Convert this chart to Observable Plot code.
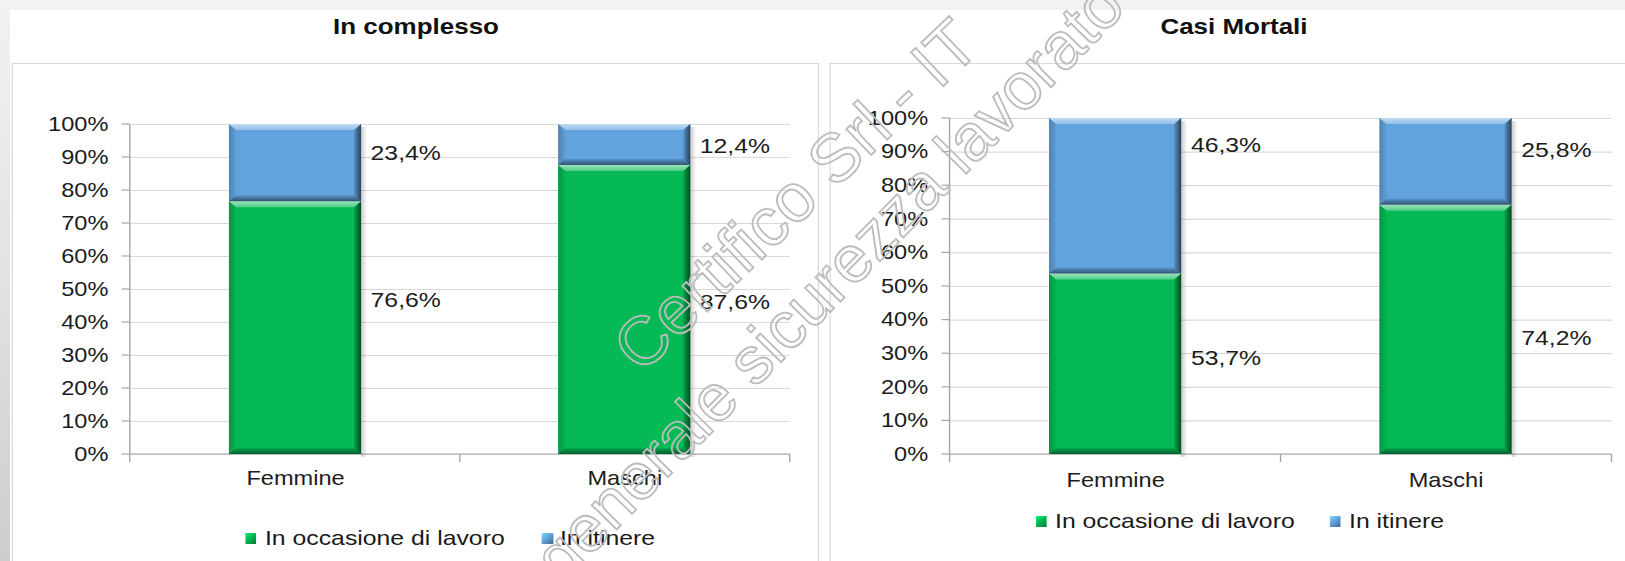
<!DOCTYPE html>
<html>
<head>
<meta charset="utf-8">
<script src="https://cdn.jsdelivr.net/npm/d3@7"></script>
<script src="https://cdn.jsdelivr.net/npm/@observablehq/plot@0.6"></script>
<style>
  html, body { margin: 0; padding: 0; width: 1625px; height: 561px; overflow: hidden; }
  body { background: linear-gradient(180deg, #f2f2f2 0%, #e2e2e2 50%, #cdcdcd 100%); font-family: Arial, "Liberation Sans", sans-serif; position: relative; }
  #sheet { position: absolute; left: 10px; top: 10px; right: 0; bottom: 0; background: #ffffff; }
  #stage { position: absolute; left: 0; top: 0; height: 561px; transform-origin: 0 0; }
  .panel { position: absolute; border: 1px solid #d9d9d9; border-bottom: none; box-sizing: border-box; }
  .title { position: absolute; text-align: center; font-weight: bold; font-size: 22px; line-height: 26px; color: #111; white-space: nowrap; }
  .leg { position: absolute; font-size: 21px; line-height: 22px; color: #1a1a1a; white-space: nowrap; }
  .sw { position: absolute; height: 11px; box-sizing: border-box; }
  #wm { position: absolute; left: 0; top: 0; pointer-events: none; }
</style>
</head>
<body>
<div id="sheet"></div>
<div id="stage"></div>
<script>
// ---------------- data ----------------
const titles = ["In complesso", "Casi Mortali"];
const categories = ["Femmine", "Maschi"];
const series = ["In occasione di lavoro", "In itinere"];
const yTicks = [0, 10, 20, 30, 40, 50, 60, 70, 80, 90, 100];

const complessoLavoro = [76.6, 87.6];
const complessoItinere = [23.4, 12.4];
const mortaliLavoro = [53.7, 74.2];
const mortaliItinere = [46.3, 25.8];

// where the data labels sit (in %)
const complessoLabelLavoro = [46.7, 46.2];
const complessoLabelItinere = [91.2, 93.4];
const mortaliLabelLavoro = [28.6, 34.5];
const mortaliLabelItinere = [92.0, 90.5];

const watermark = ["Certifico Srl - IT", "generale sicurezza lavorato"];

// ---------------- style ----------------
const GREEN = "#05b955";
const BLUE = "#62a3de";
const GRID = "#d9d9d9";
const AXIS = "#a6a6a6";
const INK = "#1c1c1c";
const FONT = "Arial, 'Liberation Sans', sans-serif";
const S = 1.18;               // horizontal stretch of the original picture
const u = v => v / S;

const stage = document.getElementById("stage");
stage.style.width = u(1625) + "px";
stage.style.transform = `scaleX(${S})`;

function fmt(v) { return v.toFixed(1).replace(".", ",") + "%"; }

function defs(id) {
  return () => {
    const d = d3.create("svg:defs");
    const lin = (name, x2, y2, stops) => {
      const g = d.append("linearGradient").attr("id", `${id}-${name}`)
        .attr("x1", 0).attr("y1", 0).attr("x2", x2).attr("y2", y2);
      stops.forEach(([o, c, a]) => g.append("stop").attr("offset", o).attr("stop-color", c).attr("stop-opacity", a));
    };
    lin("top", 0, 1, [[0, "#fff", 0.6], [1, "#fff", 0.3]]);
    lin("right", 1, 0, [[0, "#000", 0.12], [1, "#000", 0.6]]);
    lin("bottom", 0, 1, [[0, "#000", 0.1], [1, "#000", 0.5]]);
    lin("left", 1, 0, [[0, "#000", 0.2], [1, "#000", 0.04]]);
    lin("shadow", 1, 0, [[0, "#000", 0.2], [1, "#000", 0]]);
    return d.node();
  };
}

function axes(nCats) {
  return (index, scales, values, dim) => {
    const g = d3.create("svg:g").attr("stroke", AXIS).attr("stroke-width", 1.2).attr("fill", "none");
    const x0 = dim.marginLeft, x1 = dim.width - dim.marginRight;
    const y0 = scales.y(0), yTop = scales.y(100);
    g.append("line").attr("x1", x0).attr("x2", x0).attr("y1", yTop).attr("y2", y0 + 8);
    g.append("line").attr("x1", x0).attr("x2", x1).attr("y1", y0).attr("y2", y0);
    for (const t of yTicks) {
      const y = scales.y(t);
      g.append("line").attr("x1", x0 - u(8)).attr("x2", x0).attr("y1", y).attr("y2", y);
    }
    const step = (x1 - x0) / nCats;
    for (let k = 1; k <= nCats; k++) {
      const x = x0 + k * step;
      g.append("line").attr("x1", x).attr("x2", x).attr("y1", y0).attr("y2", y0 + 8);
    }
    return g.node();
  };
}

function bevel(rows, id) {
  return (index, scales) => {
    const g = d3.create("svg:g");
    const bw = scales.x.bandwidth();
    const bx = u(7), by = 6;
    const poly = (pts, fill) => g.append("polygon")
      .attr("points", pts.map(p => p.join(",")).join(" ")).attr("fill", fill);
    for (const r of rows) {
      const xa = scales.x(r.cat), xb = xa + bw;
      const yt = scales.y(r.y1), yb = scales.y(r.y0);
      g.append("rect").attr("x", xb).attr("y", yt + 3).attr("width", u(6)).attr("height", Math.max(0, yb - yt))
        .attr("fill", `url(#${id}-shadow)`);
      poly([[xa, yt], [xb, yt], [xb - bx, yt + by], [xa + bx, yt + by]], `url(#${id}-top)`);
      poly([[xa, yt], [xa, yb], [xa + bx, yb - by], [xa + bx, yt + by]], `url(#${id}-left)`);
      poly([[xa, yb], [xb, yb], [xb - bx, yb - by], [xa + bx, yb - by]], `url(#${id}-bottom)`);
      poly([[xb, yt], [xb, yb], [xb - bx, yb - by], [xb - bx, yt + by]], `url(#${id}-right)`);
    }
    return g.node();
  };
}

function chart(cfg) {
  const { lavoro, itinere, labLav, labIti, W, H, mT, mR, mB, mL, catDy, id } = cfg;
  const rows = [];
  categories.forEach((c, i) => {
    rows.push({ cat: c, serie: series[0], value: lavoro[i], y0: 0, y1: lavoro[i], labelAt: labLav[i] });
    rows.push({ cat: c, serie: series[1], value: itinere[i], y0: lavoro[i], y1: lavoro[i] + itinere[i], labelAt: labIti[i] });
  });
  const step = (W - mL - mR) / categories.length;
  const bw = step * 0.4;
  return Plot.plot({
    width: W, height: H,
    marginTop: mT, marginRight: mR, marginBottom: mB, marginLeft: mL,
    x: { domain: categories, paddingInner: 0.6, paddingOuter: 0.3, axis: null },
    y: { domain: [0, 100], axis: null },
    color: { domain: series, range: [GREEN, BLUE] },
    style: { fontFamily: FONT, background: "transparent", overflow: "visible", color: INK },
    marks: [
      defs(id),
      Plot.ruleY(yTicks, { y: d => d, stroke: GRID, strokeWidth: 1.2 }),
      axes(categories.length),
      Plot.barY(rows, { x: "cat", y1: "y0", y2: "y1", fill: "serie" }),
      bevel(rows, id),
      Plot.text(yTicks, { y: d => d, text: d => d + "%", frameAnchor: "left", textAnchor: "end", dx: -u(22), fontSize: 20, fill: INK }),
      Plot.text(categories, { x: d => d, text: d => d, frameAnchor: "bottom", dy: catDy, fontSize: 20, fill: INK }),
      Plot.text(rows, { x: "cat", y: "labelAt", text: d => fmt(d.value), textAnchor: "start", dx: bw / 2 + u(9), fontSize: 21, fill: INK })
    ]
  });
}

function place(el, left, top, width) {
  el.style.position = "absolute";
  el.style.left = u(left) + "px";
  el.style.top = top + "px";
  if (width != null) el.style.width = u(width) + "px";
  stage.appendChild(el);
  return el;
}

// panels
[[12, 807], [830, 820]].forEach(([l, w]) => {
  const p = document.createElement("div");
  p.className = "panel";
  p.style.height = "520px";
  place(p, l, 63, w);
});

// titles
[[416, titles[0]], [1234, titles[1]]].forEach(([cx, t]) => {
  const d = document.createElement("div");
  d.className = "title";
  d.textContent = t;
  place(d, cx - 200, 14, 400);
});

// charts
const c1 = chart({ lavoro: complessoLavoro, itinere: complessoItinere, labLav: complessoLabelLavoro, labIti: complessoLabelItinere,
  W: u(807), H: 498, mT: 61, mB: 107, mL: u(118), mR: u(29), catDy: 31, id: "c1" });
const w1 = document.createElement("div"); w1.appendChild(c1); place(w1, 12, 63, 807);

const c2 = chart({ lavoro: mortaliLavoro, itinere: mortaliItinere, labLav: mortaliLabelLavoro, labIti: mortaliLabelItinere,
  W: u(795), H: 498, mT: 55, mB: 107, mL: u(120), mR: u(13), catDy: 33, id: "c2" });
const w2 = document.createElement("div"); w2.appendChild(c2); place(w2, 830, 63, 795);

// legends
function legend(items, cy) {
  items.forEach(([swx, tx, color, label]) => {
    const s = document.createElement("div");
    s.className = "sw";
    s.style.background = `linear-gradient(135deg, ${d3.color(color).brighter(0.8)} 0%, ${color} 45%, ${d3.color(color).darker(1.2)} 100%)`;
    place(s, swx, cy - 5, 11);
    const t = document.createElement("div");
    t.className = "leg";
    t.textContent = label;
    place(t, tx, cy - 11);
  });
}
legend([[245, 265, GREEN, series[0]], [542, 560, BLUE, series[1]]], 538);
legend([[1036, 1055, GREEN, series[0]], [1330, 1349, BLUE, series[1]]], 521);

// watermark (outlined light grey text over the page)
const wm = d3.select("body").append("svg").attr("id", "wm").attr("width", 1625).attr("height", 561);
[[watermark[0], 641, 375, -43.7, 68], [watermark[1], 562, 585, -45.5, 66]].forEach(([t, x, y, a, fs]) => {
  wm.append("text").attr("x", x).attr("y", y).attr("transform", `rotate(${a},${x},${y})`)
    .attr("font-family", FONT).attr("font-size", fs).attr("fill", "none")
    .attr("stroke", "#bcbcbc").attr("stroke-width", 1.8).text(t);
});
</script>
</body>
</html>
